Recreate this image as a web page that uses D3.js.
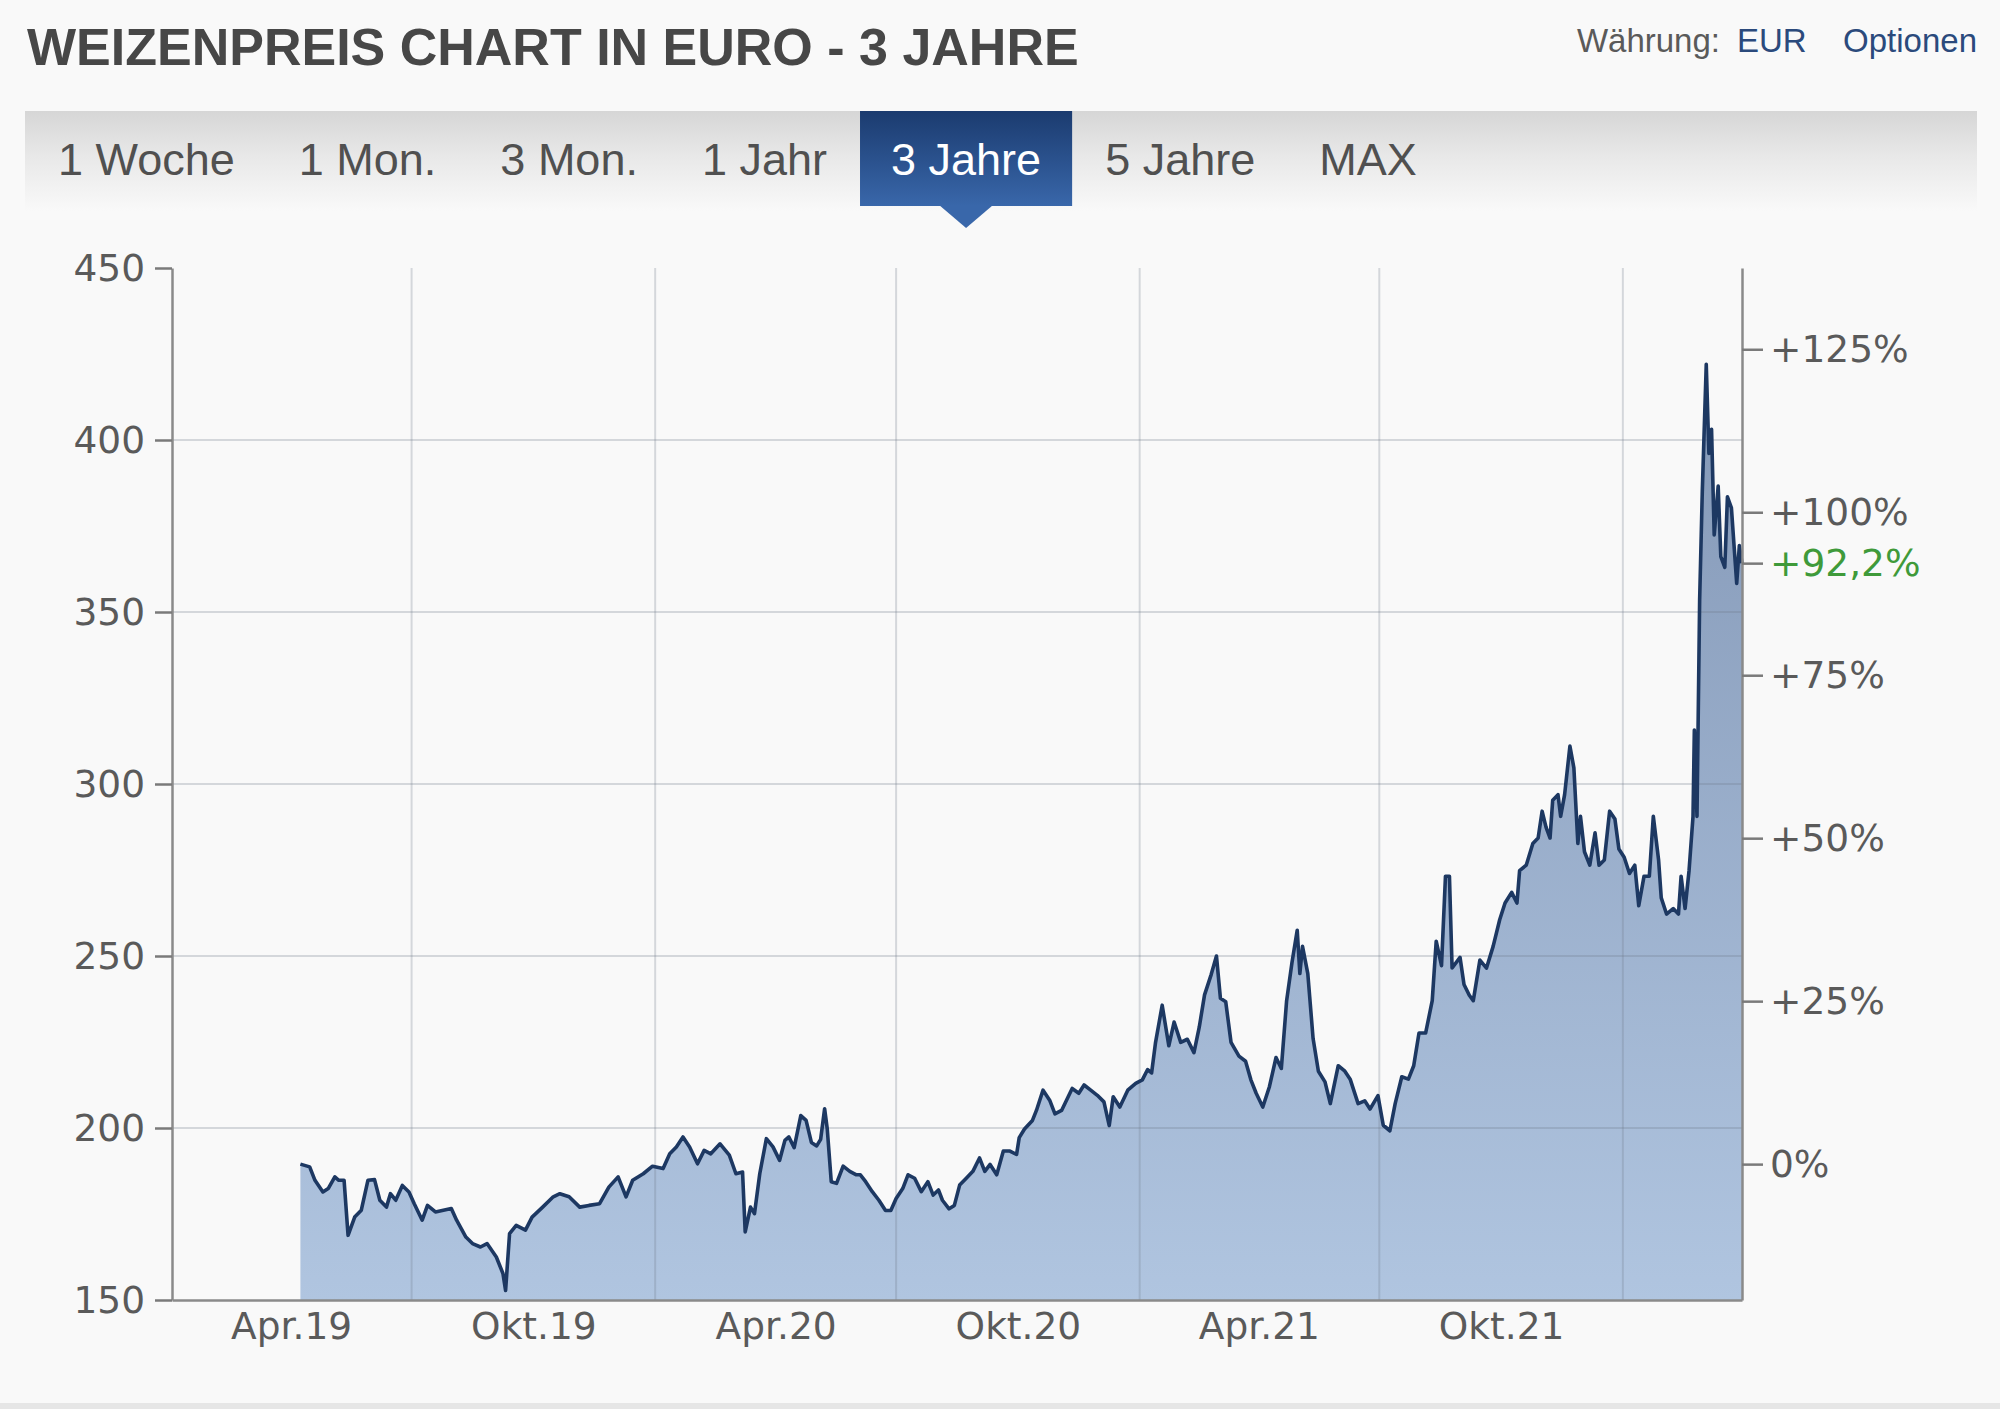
<!DOCTYPE html>
<html><head><meta charset="utf-8">
<script src="https://cdn.jsdelivr.net/npm/d3@7"></script>
<style>
html,body{margin:0;padding:0;background:#f9f9f9;}
svg{display:block;}
</style></head><body>
<svg id="chart" width="2000" height="1409"></svg>
<script>
// ---------- data ----------
const titleText = "WEIZENPREIS CHART IN EURO - 3 JAHRE";
const tabLabels = ["1 Woche","1 Mon.","3 Mon.","1 Jahr","3 Jahre","5 Jahre","MAX"];
const activeTab = "3 Jahre";
const currencyLabel = "Währung:";
const currencyValue = "EUR";
const optionsLabel = "Optionen";
const xTickDates = ["2019-04-01","2019-10-01","2020-04-01","2020-10-01","2021-04-01","2021-10-01"];
const xTickLabels = ["Apr.19","Okt.19","Apr.20","Okt.20","Apr.21","Okt.21"];
const xGridDates = ["2019-07-01","2020-01-01","2020-07-01","2021-01-01","2021-07-01","2022-01-01"];
const yTicks = [150,200,250,300,350,400,450];
const yGrid = [200,250,300,350,400];
const pctTicks = [0,25,50,75,100,125];

const dates = [
"2019-04-08","2019-04-15","2019-04-19","2019-04-25","2019-04-29","2019-05-04","2019-05-07","2019-05-11","2019-05-14","2019-05-19",
"2019-05-24","2019-05-29","2019-06-03","2019-06-07","2019-06-12","2019-06-15","2019-06-19","2019-06-24","2019-06-29","2019-07-03",
"2019-07-09","2019-07-13","2019-07-19","2019-07-31","2019-08-04","2019-08-11","2019-08-16","2019-08-22","2019-08-27","2019-09-03",
"2019-09-08","2019-09-10","2019-09-13","2019-09-18","2019-09-25","2019-09-30","2019-10-08","2019-10-16","2019-10-21","2019-10-28",
"2019-11-05","2019-11-12","2019-11-20","2019-11-27","2019-12-04","2019-12-10","2019-12-15","2019-12-23","2019-12-30","2020-01-07",
"2020-01-12","2020-01-17","2020-01-22","2020-01-27","2020-02-02","2020-02-07","2020-02-12","2020-02-19","2020-02-26","2020-03-02",
"2020-03-07","2020-03-09","2020-03-13","2020-03-16","2020-03-20","2020-03-25","2020-03-30","2020-04-04","2020-04-08","2020-04-11",
"2020-04-15","2020-04-20","2020-04-24","2020-04-28","2020-05-02","2020-05-05","2020-05-08","2020-05-10","2020-05-13","2020-05-17",
"2020-05-22","2020-05-27","2020-06-01","2020-06-04","2020-06-08","2020-06-13","2020-06-18","2020-06-23","2020-06-27","2020-07-01",
"2020-07-06","2020-07-10","2020-07-15","2020-07-20","2020-07-25","2020-07-29","2020-08-02","2020-08-05","2020-08-10","2020-08-14",
"2020-08-18","2020-08-23","2020-08-28","2020-09-02","2020-09-06","2020-09-10","2020-09-15","2020-09-20","2020-09-25","2020-09-30",
"2020-10-02","2020-10-06","2020-10-12","2020-10-15","2020-10-20","2020-10-25","2020-10-29","2020-11-03","2020-11-08","2020-11-11",
"2020-11-16","2020-11-20","2020-11-25","2020-11-30","2020-12-05","2020-12-09","2020-12-12","2020-12-17","2020-12-23","2020-12-29",
"2021-01-03","2021-01-07","2021-01-10","2021-01-13","2021-01-18","2021-01-23","2021-01-27","2021-02-01","2021-02-06","2021-02-11",
"2021-02-15","2021-02-19","2021-02-24","2021-02-28","2021-03-03","2021-03-07","2021-03-11","2021-03-17","2021-03-22","2021-03-26",
"2021-03-30","2021-04-04","2021-04-09","2021-04-14","2021-04-18","2021-04-22","2021-04-26","2021-04-30","2021-05-02","2021-05-04",
"2021-05-08","2021-05-12","2021-05-16","2021-05-21","2021-05-25","2021-05-31","2021-06-05","2021-06-09","2021-06-15","2021-06-20",
"2021-06-24","2021-06-30","2021-07-04","2021-07-09","2021-07-13","2021-07-18","2021-07-23","2021-07-27","2021-07-31","2021-08-05",
"2021-08-10","2021-08-13","2021-08-17","2021-08-20","2021-08-23","2021-08-25","2021-08-31","2021-09-03","2021-09-07","2021-09-10",
"2021-09-15","2021-09-20","2021-09-25","2021-09-30","2021-10-04","2021-10-09","2021-10-13","2021-10-15","2021-10-20","2021-10-25",
"2021-10-29","2021-11-01","2021-11-04","2021-11-07","2021-11-09","2021-11-13","2021-11-15","2021-11-18","2021-11-22","2021-11-25",
"2021-11-28","2021-11-30","2021-12-03","2021-12-07","2021-12-11","2021-12-14","2021-12-18","2021-12-22","2021-12-26","2021-12-29",
"2022-01-02","2022-01-06","2022-01-10","2022-01-13","2022-01-17","2022-01-21","2022-01-24","2022-01-28","2022-01-30","2022-02-03",
"2022-02-08","2022-02-12","2022-02-14","2022-02-17","2022-02-20","2022-02-23","2022-02-24","2022-02-26","2022-02-28","2022-03-02",
"2022-03-05","2022-03-07","2022-03-09","2022-03-11","2022-03-14","2022-03-16","2022-03-19","2022-03-21","2022-03-24","2022-03-26",
"2022-03-28","2022-03-30","2022-04-01"
];
const prices = [
189.5,188.7,184.8,181.4,182.4,185.8,184.8,184.8,168.8,174.1,
176.1,184.8,185.0,179.0,177.0,180.9,179.0,183.3,181.4,178.0,
173.2,177.5,175.6,176.6,173.2,168.3,166.4,165.4,166.4,162.5,
157.7,152.8,169.3,171.7,170.3,174.1,177.0,180.0,180.9,180.0,
177.0,177.5,178.0,182.8,185.8,180.0,184.8,186.7,188.9,188.2,
192.5,194.5,197.4,194.5,189.6,193.5,192.5,195.4,192.1,186.7,
187.2,169.8,177.0,175.1,186.7,196.9,194.5,190.6,196.4,197.4,
194.3,203.6,202.2,195.8,194.8,196.7,205.6,199.7,184.4,183.9,
188.9,187.4,186.4,186.4,184.4,181.5,179.0,176.0,176.0,179.5,
182.4,186.4,185.4,181.5,184.4,180.5,182.0,179.0,176.5,177.5,
183.4,185.4,187.4,191.3,187.4,189.4,186.4,193.3,193.3,192.3,
197.2,199.7,202.2,205.1,211.0,208.1,204.1,205.1,209.1,211.5,
210.1,212.5,211.0,209.5,207.6,200.7,209.1,206.1,211.0,213.0,
214.0,217.0,216.0,224.9,235.7,223.9,230.8,224.9,225.8,221.9,
229.3,238.7,244.6,250.0,237.7,236.7,224.9,220.9,219.4,214.0,
210.1,206.1,212.0,220.5,217.3,237.0,248.0,257.5,244.9,252.8,
244.9,226.0,216.5,213.4,207.1,218.1,216.5,214.2,207.1,207.9,
205.5,209.4,200.8,199.2,207.1,214.9,214.2,218.1,227.6,227.6,
237.0,254.3,247.2,273.2,273.2,246.5,249.6,241.7,238.6,237.0,
248.8,246.5,252.8,260.6,265.4,268.5,265.4,274.8,276.4,282.7,
284.3,292.1,287.4,284.3,295.3,296.9,290.6,296.9,311.0,304.7,
282.7,290.6,280.3,276.4,285.8,276.4,277.9,292.1,289.8,281.1,
278.7,274.0,276.4,264.6,273.2,273.2,290.6,277.9,266.9,262.2,
263.8,262.2,273.2,263.8,274.8,290.6,315.7,290.6,353.5,385.0,
422.0,396.1,403.1,372.4,386.6,366.1,363.0,383.5,380.3,369.3,
358.3,369.3,364.2
];

// ---------- setup ----------
const parse = d3.timeParse("%Y-%m-%d");
const series = dates.map((d,i)=>({date:parse(d), value:prices[i]}));
const base = series[0].value;
const last = series[series.length-1].value;

const L = 172, R = 1742, T = 268, B = 1300;
const svg = d3.select("#chart");
const defs = svg.append("defs");

const x = d3.scaleTime()
  .domain([d3.timeYear.floor(series[0].date), series[series.length-1].date])
  .range([L, R]);
const y = d3.scaleLinear().domain([d3.min(yTicks), d3.max(yTicks)]).range([B, T]);
const yPct = d3.scaleLinear()
  .domain([(d3.min(yTicks)/base-1)*100, (d3.max(yTicks)/base-1)*100])
  .range([B, T]);

// ---------- header ----------
svg.append("rect").attr("x",0).attr("y",0).attr("width",2000).attr("height",1409).attr("fill","#f9f9f9");
svg.append("text").attr("x",27).attr("y",65)
  .attr("font-family","'Liberation Sans', Arial, sans-serif").attr("font-weight","bold")
  .attr("font-size",52).attr("fill","#474747").text(titleText);

const hdrFont = "'Liberation Sans', Arial, sans-serif";
svg.append("text").attr("x",1977).attr("y",52).attr("text-anchor","end")
  .attr("font-family",hdrFont).attr("font-size",33).attr("fill","#2b4a7c").text(optionsLabel);
svg.append("text").attr("x",1737).attr("y",52)
  .attr("font-family",hdrFont).attr("font-size",33).attr("fill","#2b4a7c").text(currencyValue);
svg.append("text").attr("x",1720).attr("y",52).attr("text-anchor","end")
  .attr("font-family",hdrFont).attr("font-size",33).attr("fill","#5a5a5a").text(currencyLabel);

// tab bar
const barGrad = defs.append("linearGradient").attr("id","barGrad").attr("x1",0).attr("y1",0).attr("x2",0).attr("y2",1);
barGrad.append("stop").attr("offset","0").attr("stop-color","#d6d6d6");
barGrad.append("stop").attr("offset","0.45").attr("stop-color","#e8e8e8");
barGrad.append("stop").attr("offset","1").attr("stop-color","#f9f9f9");
svg.append("rect").attr("x",25).attr("y",111).attr("width",1952).attr("height",100).attr("fill","url(#barGrad)");

const actGrad = defs.append("linearGradient").attr("id","actGrad").attr("x1",0).attr("y1",0).attr("x2",0).attr("y2",1);
actGrad.append("stop").attr("offset","0").attr("stop-color","#1b3b6f");
actGrad.append("stop").attr("offset","1").attr("stop-color","#3967aa");

const tabG = svg.append("g");
let tx = 58;
tabLabels.forEach(lbl => {
  const t = tabG.append("text").attr("x",tx).attr("y",175)
    .attr("font-family",hdrFont).attr("font-size",45).attr("fill","#505050").text(lbl);
  const w = t.node().getComputedTextLength();
  if (lbl === activeTab) {
    const rx = tx - 31, rw = w + 62;
    tabG.insert("rect","text").attr("x",rx).attr("y",111).attr("width",rw).attr("height",95).attr("fill","url(#actGrad)");
    const cx = rx + rw/2;
    tabG.insert("path","text").attr("d",`M${cx-27},205 L${cx+27},205 L${cx},228 Z`).attr("fill","#3967aa");
    t.attr("fill","#ffffff");
  }
  tx += w + 64;
});

// ---------- plot ----------
const areaGrad = defs.append("linearGradient").attr("id","areaGrad")
  .attr("gradientUnits","userSpaceOnUse").attr("x1",0).attr("y1",T).attr("x2",0).attr("y2",B);
areaGrad.append("stop").attr("offset","0").attr("stop-color","#7f93b2");
areaGrad.append("stop").attr("offset","1").attr("stop-color","#b0c5e0");

const area = d3.area().x(d=>x(d.date)).y0(y(d3.min(yTicks))).y1(d=>y(d.value));
const line = d3.line().x(d=>x(d.date)).y(d=>y(d.value));

svg.append("path").datum(series).attr("d",area).attr("fill","url(#areaGrad)");

// grid (drawn over the area, semi-transparent)
const gridG = svg.append("g").attr("stroke","rgba(110,120,135,0.26)").attr("stroke-width",2);
gridG.selectAll("line.h").data(yGrid).join("line").attr("class","h")
  .attr("x1",L).attr("x2",R).attr("y1",d=>y(d)).attr("y2",d=>y(d));
gridG.selectAll("line.v").data(xGridDates.map(parse)).join("line").attr("class","v")
  .attr("x1",d=>x(d)).attr("x2",d=>x(d)).attr("y1",T).attr("y2",B);

svg.append("path").datum(series).attr("d",line).attr("fill","none")
  .attr("stroke","#1d3862").attr("stroke-width",3.6).attr("stroke-linejoin","round");

const axisFont = "'DejaVu Sans', Verdana, sans-serif";
function styleAxis(g){
  g.select(".domain").attr("stroke","#8a8a8a").attr("stroke-width",2.5);
  g.selectAll(".tick line").attr("stroke","#7a7a7a").attr("stroke-width",2.5);
  g.selectAll(".tick text").attr("font-family",axisFont).attr("font-size",37.5).attr("fill","#5a5a5a");
}

// left axis
const gl = svg.append("g").attr("transform",`translate(${L},0)`)
  .call(d3.axisLeft(y).tickValues(yTicks).tickSize(17).tickSizeOuter(0).tickPadding(10).tickFormat(d3.format("d")));
styleAxis(gl);

// bottom axis
const tickDates = xTickDates.map(parse);
const gb = svg.append("g").attr("transform",`translate(0,${B})`)
  .call(d3.axisBottom(x).tickValues(tickDates).tickSize(0).tickSizeOuter(0).tickPadding(12)
    .tickFormat((d,i)=>xTickLabels[i]));
styleAxis(gb);

// right axis (percent)
const lastPct = (last/base-1)*100;
const pctFmt = p => (p===0 ? "0%" : "+" + p + "%");
const gr = svg.append("g").attr("transform",`translate(${R},0)`)
  .call(d3.axisRight(yPct).tickValues(pctTicks).tickSize(21).tickSizeOuter(0).tickPadding(7).tickFormat(pctFmt));
styleAxis(gr);
const grLast = svg.append("g").attr("transform",`translate(${R},0)`)
  .call(d3.axisRight(yPct).tickValues([lastPct]).tickSize(21).tickSizeOuter(0).tickPadding(7)
    .tickFormat(p => "+" + p.toFixed(1).replace(".",",") + "%"));
styleAxis(grLast);
grLast.select(".domain").remove();
grLast.selectAll(".tick text").attr("fill","#3f9a3a");

// bottom band
svg.append("rect").attr("x",0).attr("y",1403).attr("width",2000).attr("height",6).attr("fill","#e6e6e6");
</script>
</body></html>
